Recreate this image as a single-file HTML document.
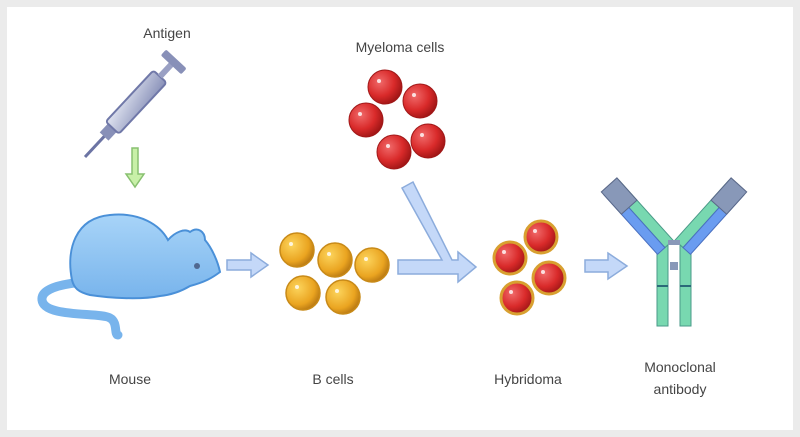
<!DOCTYPE html>
<html><head><style>
html,body{margin:0;padding:0;background:#ebebeb;}
svg{display:block}
text{font-family:"Liberation Sans",sans-serif;font-size:14px;fill:#444;text-anchor:middle}
</style></head><body>
<svg width="800" height="437" viewBox="0 0 800 437" xmlns="http://www.w3.org/2000/svg">
<defs>
<radialGradient id="red" cx="0.35" cy="0.35" r="0.7"><stop offset="0" stop-color="#f06a6a"/><stop offset="0.6" stop-color="#d92a2a"/><stop offset="1" stop-color="#9e1515"/></radialGradient>
<radialGradient id="yel" cx="0.35" cy="0.35" r="0.7"><stop offset="0" stop-color="#fcd45c"/><stop offset="0.7" stop-color="#eaa420"/><stop offset="1" stop-color="#b87812"/></radialGradient>
<linearGradient id="mouse" x1="0" y1="0" x2="0" y2="1"><stop offset="0" stop-color="#a8d4f8"/><stop offset="1" stop-color="#78b4ec"/></linearGradient>
<linearGradient id="syr" x1="0" y1="0" x2="1" y2="1"><stop offset="0" stop-color="#e0e4f0"/><stop offset="1" stop-color="#8890b8"/></linearGradient>
</defs>
<rect x="7" y="7" width="786" height="423" fill="#fff"/>

<text x="167" y="38">Antigen</text>
<text x="400" y="52">Myeloma cells</text>
<text x="130" y="384">Mouse</text>
<text x="333" y="384">B cells</text>
<text x="528" y="384">Hybridoma</text>
<text x="680" y="372">Monoclonal</text>
<text x="680" y="394">antibody</text>

<!-- syringe -->
<g transform="translate(85,157) rotate(-47)">
<line x1="0" y1="0" x2="30" y2="0" stroke="#6c74a4" stroke-width="3"/>
<rect x="28" y="-6" width="12" height="12" fill="#8890b8"/>
<rect x="40" y="-9" width="70" height="18" rx="3" fill="url(#syr)" stroke="#7078a8" stroke-width="2"/>
<rect x="110" y="-3" width="18" height="6" fill="#9aa0c4"/>
<rect x="126" y="-14" width="8" height="28" rx="2" fill="#8890b8"/>
</g>
<!-- green arrow -->
<path d="M132,148 h6 v26 h6 l-9,13 l-9,-13 h6z" fill="#c8f0a8" stroke="#88c070" stroke-width="1.5"/>

<!-- mouse -->
<path d="M120,282 C95,280 40,282 42,300 C44,318 100,312 110,318 C118,322 114,335 118,335" fill="none" stroke="#78b4ec" stroke-width="9" stroke-linecap="round"/>
<path d="M72,280 C66,250 75,218 110,215 C140,212 160,225 168,240 C175,232 185,228 190,232 C198,226 205,232 205,240 C212,248 218,262 220,272 C212,278 205,282 190,286 C180,292 170,295 160,296 C140,300 110,298 90,295 C78,292 74,288 72,280Z" fill="url(#mouse)" stroke="#4a90d8" stroke-width="2"/>
<circle cx="197" cy="266" r="3" fill="#506890"/>
<!-- arrow mouse -> B -->
<path d="M227,260 h24 v-7 l17,12 l-17,12 v-7 h-24z" fill="#c4d8f8" stroke="#8cacdc" stroke-width="1.5"/>

<!-- B cells -->
<g fill="url(#yel)" stroke="#c88a18" stroke-width="1.5">
<circle cx="297" cy="250" r="17"/><circle cx="335" cy="260" r="17"/><circle cx="372" cy="265" r="17"/>
<circle cx="303" cy="293" r="17"/><circle cx="343" cy="297" r="17"/>
</g>
<g fill="#fff" opacity="0.8"><circle cx="291" cy="244" r="2"/><circle cx="329" cy="254" r="2"/><circle cx="366" cy="259" r="2"/><circle cx="297" cy="287" r="2"/><circle cx="337" cy="291" r="2"/></g>

<!-- Myeloma cells -->
<g fill="url(#red)" stroke="#a01818" stroke-width="1">
<circle cx="385" cy="87" r="17"/><circle cx="420" cy="101" r="17"/><circle cx="366" cy="120" r="17"/>
<circle cx="428" cy="141" r="17"/><circle cx="394" cy="152" r="17"/>
</g>
<g fill="#fff" opacity="0.8"><circle cx="379" cy="81" r="2"/><circle cx="414" cy="95" r="2"/><circle cx="360" cy="114" r="2"/><circle cx="422" cy="135" r="2"/><circle cx="388" cy="146" r="2"/></g>

<!-- branching arrow -->
<path d="M398,260 H442 L402,188 L413,182 L452,260 H458 v-8 l18,15 l-18,15 v-8 H398z" fill="#c4d8f8" stroke="#8cacdc" stroke-width="1.5"/>

<!-- Hybridoma -->
<g fill="url(#red)" stroke="#d8a030" stroke-width="3">
<circle cx="541" cy="237" r="16"/><circle cx="510" cy="258" r="16"/><circle cx="549" cy="278" r="16"/><circle cx="517" cy="298" r="16"/>
</g>
<g fill="#fff" opacity="0.8"><circle cx="535" cy="231" r="2"/><circle cx="504" cy="252" r="2"/><circle cx="543" cy="272" r="2"/><circle cx="511" cy="292" r="2"/></g>

<!-- arrow -> antibody -->
<path d="M585,260 h23 v-7 l19,13 l-19,13 v-7 h-23z" fill="#c4d8f8" stroke="#8cacdc" stroke-width="1.5"/>

<!-- antibody -->
<g stroke="#4a9a88" stroke-width="1">
<rect x="657" y="242" width="11" height="84" fill="#78d8b0"/>
<rect x="680" y="242" width="11" height="84" fill="#78d8b0"/>
</g>
<g transform="translate(663,244) rotate(-132) scale(1,-1)">
<rect x="-4" y="-10" width="80" height="11" fill="#78d8b0" stroke="#4a9a88"/>
<rect x="-4" y="1" width="80" height="10" fill="#6a9cf0" stroke="#4a70c0"/>
<rect x="50" y="-10" width="30" height="21" fill="#8898b8" stroke="#5a6888"/>
</g>
<g transform="translate(685,244) rotate(-48)">
<rect x="-4" y="-10" width="80" height="11" fill="#78d8b0" stroke="#4a9a88"/>
<rect x="-4" y="1" width="80" height="10" fill="#6a9cf0" stroke="#4a70c0"/>
<rect x="50" y="-10" width="30" height="21" fill="#8898b8" stroke="#5a6888"/>
</g>
<rect x="668" y="240" width="12" height="5" fill="#8898b8"/>
<rect x="670" y="262" width="8" height="8" fill="#8898b8"/>
<line x1="657" y1="286" x2="668" y2="286" stroke="#2a6a78" stroke-width="2"/>
<line x1="680" y1="286" x2="691" y2="286" stroke="#2a6a78" stroke-width="2"/>
</svg>
</body></html>
